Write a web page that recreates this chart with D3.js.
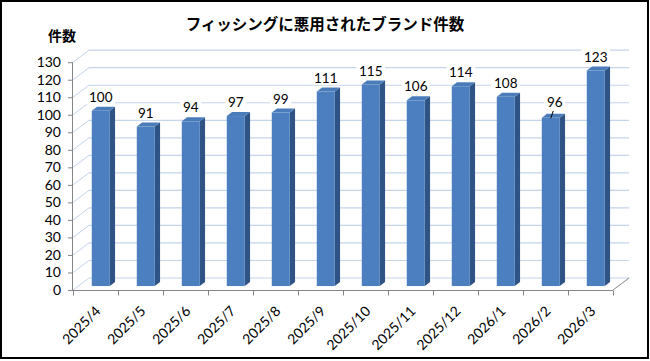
<!DOCTYPE html>
<html><head><meta charset="utf-8">
<script src="https://cdn.jsdelivr.net/npm/d3@7"></script>
<style>
html,body{margin:0;padding:0;background:#fff;}
svg{display:block;}
</style></head>
<body>
<svg id="chart" width="650" height="361"></svg>
<script>
const title = "フィッシングに悪用されたブランド件数";
const yAxisTitle = "件数";
const categories = ["2025/4","2025/5","2025/6","2025/7","2025/8","2025/9","2025/10","2025/11","2025/12","2026/1","2026/2","2026/3"];
const values = [100,91,94,97,99,111,115,106,114,108,96,123];
const yTicks = [0,10,20,30,40,50,60,70,80,90,100,110,120,130];

(function(){
const svg = d3.select("#chart");
const W = 650, H = 361;
const pLeft = 73, pRight = 613, pBottom = 290, pTop = 62.2;
const DX = 16, DY = -12;      // depth offset of the 3D box
const t1 = 0.33, t2 = 0.66;   // bar front/back depth fraction
const gridColor = "#c4d4ea";
const axisColor = "#868686";
const font = "Lato, 'Open Sans', sans-serif";

svg.append("rect").attr("x",0).attr("y",0).attr("width",W).attr("height",H).attr("fill","#fff");

const x = d3.scaleBand().domain(categories).range([pLeft,pRight]).paddingInner(0.6).paddingOuter(0.3);
const y = d3.scaleLinear().domain([0,130]).range([pBottom,pTop]);
const step = x.step();

// back wall gridlines and side wall diagonals
const g = svg.append("g");
yTicks.forEach(v=>{
  g.append("line").attr("x1",pLeft).attr("y1",y(v)).attr("x2",pLeft+DX).attr("y2",y(v)+DY)
    .attr("stroke",gridColor).attr("stroke-width",1);
  g.append("line").attr("x1",pLeft+DX).attr("y1",y(v)+DY).attr("x2",pRight+DX).attr("y2",y(v)+DY)
    .attr("stroke",gridColor).attr("stroke-width",1.2);
});

// floor right diagonal
svg.append("line").attr("x1",pRight).attr("y1",pBottom).attr("x2",pRight+DX).attr("y2",pBottom+DY)
  .attr("stroke",axisColor).attr("stroke-width",1);

// bars
const bw = x.bandwidth();
const ddx = DX*(t2-t1), ddy = DY*(t2-t1);
const bars = svg.append("g");
const labels = svg.append("g");
categories.forEach((c,i)=>{
  const v = values[i];
  const x0 = x(c) + DX*t1, x1 = x0 + bw;
  const yt = y(v) + DY*t1, yb = y(0) + DY*t1;
  bars.append("path").attr("d",`M${x1},${yt}L${x1+ddx},${yt+ddy}L${x1+ddx},${yb+ddy}L${x1},${yb}Z`)
    .attr("fill","#2f5384");
  bars.append("rect").attr("x",x0).attr("y",yt).attr("width",bw).attr("height",yb-yt)
    .attr("fill","#4b7fbf");
  bars.append("path").attr("d",`M${x0},${yt}L${x1},${yt}L${x1+ddx},${yt+ddy}L${x0+ddx},${yt+ddy}Z`)
    .attr("fill","#4a7cb9");
  const cx = x0 + bw/2;
  let lx = cx, ly = yt + ddy - 5;
  if (c === "2026/2") {
    lx = cx + 4; ly = yt + ddy - 6.5;
  }
  const tw = String(v).length * 7.6 + 6;
  labels.append("rect").attr("x",lx - tw/2).attr("y",ly-12.5).attr("width",tw).attr("height",15)
    .attr("fill","#fff");
  if (c === "2026/2") {
    labels.append("line").attr("x1",cx+2.5).attr("y1",ly+3.5).attr("x2",cx).attr("y2",yt+0.5)
      .attr("stroke","#000").attr("stroke-width",1);
  }
  labels.append("text").attr("x",lx).attr("y",ly).attr("text-anchor","middle")
    .attr("font-family",font).attr("font-size","13.5px").attr("fill","#000").text(v);
});

// y axis
const yAxis = d3.axisLeft(y).tickValues(yTicks).tickSize(5).tickPadding(7);
const ya = svg.append("g").attr("transform",`translate(${pLeft},0)`).call(yAxis);
ya.select(".domain").attr("stroke",axisColor).attr("d",`M-0.5,${pTop}V${pBottom}`);
ya.selectAll(".tick line").attr("stroke",axisColor);
ya.selectAll(".tick text").attr("font-family",font).attr("font-size","14px").attr("fill","#000");

// x axis
const xAxis = d3.axisBottom(x).tickSize(0).tickPadding(0);
const xa = svg.append("g").attr("transform",`translate(0,${pBottom})`).call(xAxis);
xa.select(".domain").attr("stroke",axisColor).attr("d",`M${pLeft},0.5H${pRight}`);
xa.selectAll(".tick text")
  .attr("font-family",font).attr("font-size","14px").attr("fill","#000")
  .attr("text-anchor","end").attr("dy",0).attr("y",0)
  .attr("transform","translate(6,22) rotate(-45)");
d3.range(categories.length+1).forEach(i=>{
  const tx = Math.round(pLeft + i*step) + 0.5;
  xa.append("line").attr("x1",tx).attr("x2",tx).attr("y1",0.5).attr("y2",5.5).attr("stroke",axisColor);
});

// titles
svg.append("text").attr("x",325).attr("y",30).attr("text-anchor","middle")
  .attr("font-family","'Noto Sans CJK JP', sans-serif").attr("font-weight","bold")
  .attr("font-size","15.5px").attr("fill","#000").text(title);
svg.append("text").attr("x",62).attr("y",41).attr("text-anchor","middle")
  .attr("font-family","'Noto Sans CJK JP', sans-serif").attr("font-weight","bold")
  .attr("font-size","14px").attr("fill","#000").text(yAxisTitle);

// frame
svg.append("rect").attr("x",1).attr("y",1).attr("width",647).attr("height",357)
  .attr("fill","none").attr("stroke","#000").attr("stroke-width",2);
})();
</script>
</body></html>
